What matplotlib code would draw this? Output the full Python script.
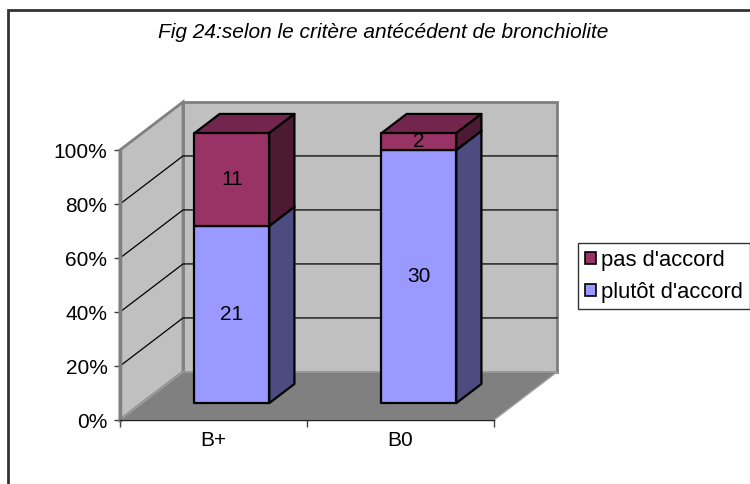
import matplotlib.pyplot as plt
from matplotlib.patches import Polygon, Rectangle, Patch

plt.rcParams['font.family'] = ['Liberation Sans', 'DejaVu Sans']

# data
categories = ['B+', 'B0']
plutot = [21, 30]
pas = [11, 2]
series_names = ["plutôt d'accord", "pas d'accord"]
front_colors = ['#9999FF', '#993366']
side_colors = ['#4C4C80', '#4D1A33']
top_colors = ['#7373BF', '#73264D']

# depth of the 3d box, in data units (x: category, y: percent)
DX, DY = 0.337, 17.8
Z0, Z1 = 0.35, 0.75          # front / back depth of the bars
BW = 0.4                     # bar width
SHIFT = -0.02
FS = 15

fig = plt.figure(figsize=(7.5, 4.84), dpi=100)
ax = fig.add_axes([120 / 750, 64 / 484, 374 / 750, 270 / 484])
ax.set_xlim(0, len(categories))
ax.set_ylim(0, 100)
ax.patch.set_visible(False)

wall_kw = dict(ec='#808080', lw=2, clip_on=False, zorder=1)
n = len(categories)
# back wall, side wall, floor
ax.add_patch(Polygon([(DX, DY), (n + DX, DY), (n + DX, 100 + DY), (DX, 100 + DY)], fc='#C0C0C0', **wall_kw))
ax.add_patch(Polygon([(0, 0), (DX, DY), (DX, 100 + DY), (0, 100)], fc='#C0C0C0', **wall_kw))
ax.add_patch(Polygon([(0, 0), (n, 0), (n + DX, DY), (DX, DY)], fc='#808080', ec='#A0A0A0', lw=1,
                     clip_on=False, zorder=1))

# gridlines
for v in range(20, 100, 20):
    ax.plot([0, DX, n + DX], [v, v + DY, v + DY], color='black', lw=0.9, clip_on=False, zorder=2)

# bars
total = [a + b for a, b in zip(plutot, pas)]
for i in range(n):
    xc = i + 0.5 + SHIFT
    xl = xc - BW / 2
    xr = xc + BW / 2
    base = 0
    for s, vals in enumerate([plutot, pas]):
        v0 = base
        v1 = base + vals[i] / total[i] * 100
        base = v1
        kw = dict(ec='black', lw=1.6, clip_on=False, zorder=3 + s, joinstyle='round')
        # top
        ax.add_patch(Polygon([(xl + Z0 * DX, v1 + Z0 * DY), (xr + Z0 * DX, v1 + Z0 * DY),
                              (xr + Z1 * DX, v1 + Z1 * DY), (xl + Z1 * DX, v1 + Z1 * DY)],
                             fc=top_colors[s], **kw))
        # side
        ax.add_patch(Polygon([(xr + Z0 * DX, v0 + Z0 * DY), (xr + Z1 * DX, v0 + Z1 * DY),
                              (xr + Z1 * DX, v1 + Z1 * DY), (xr + Z0 * DX, v1 + Z0 * DY)],
                             fc=side_colors[s], **kw))
        # front
        ax.add_patch(Polygon([(xl + Z0 * DX, v0 + Z0 * DY), (xr + Z0 * DX, v0 + Z0 * DY),
                              (xr + Z0 * DX, v1 + Z0 * DY), (xl + Z0 * DX, v1 + Z0 * DY)],
                             fc=front_colors[s], **kw))
        ax.text(xc + Z0 * DX, (v0 + v1) / 2 + Z0 * DY, str(vals[i]), ha='center', va='center',
                fontsize=FS, zorder=10)

# axes
for side in ['top', 'right']:
    ax.spines[side].set_visible(False)
ax.spines['left'].set_color('#808080')
ax.spines['left'].set_linewidth(2.5)
ax.spines['bottom'].set_color('#202020')
ax.spines['bottom'].set_linewidth(1)
ax.set_yticks(range(0, 101, 20))
ax.set_yticklabels([f'{v}%' for v in range(0, 101, 20)], fontsize=FS)
ax.tick_params(axis='y', length=4, width=1, color='#404040', pad=5)
ax.set_xticks(range(n + 1))
ax.set_xticklabels([''] * (n + 1))
ax.set_xticks([i + 0.5 for i in range(n)], minor=True)
ax.set_xticklabels(categories, minor=True, fontsize=FS)
ax.tick_params(axis='x', which='major', length=5, width=1, color='#404040')
ax.tick_params(axis='x', which='minor', length=0, pad=8)

fig.text(383 / 750, 1 - 32 / 484, 'Fig 24:selon le critère antécédent de bronchiolite',
         ha='center', va='center', fontsize=FS, style='italic')

handles = [Patch(fc=front_colors[1], ec='black', lw=1.2), Patch(fc=front_colors[0], ec='black', lw=1.2)]
leg = fig.legend(handles, [series_names[1], series_names[0]], loc='upper left',
                 bbox_to_anchor=(578 / 750, 1 - 243 / 484), fontsize=15.8, frameon=True, fancybox=False,
                 handlelength=0.5, handleheight=0.5, handletextpad=0.25, borderpad=0.3,
                 labelspacing=0.5, borderaxespad=0)
leg.get_frame().set_edgecolor('black')
leg.get_frame().set_linewidth(1)

# outer chart border
fig.add_artist(Rectangle((8 / 750, -0.1), 1.0, 1.1 - 10 / 484, transform=fig.transFigure,
                         fill=False, ec='#333333', lw=2))

fig.savefig('out.png', dpi=100)
